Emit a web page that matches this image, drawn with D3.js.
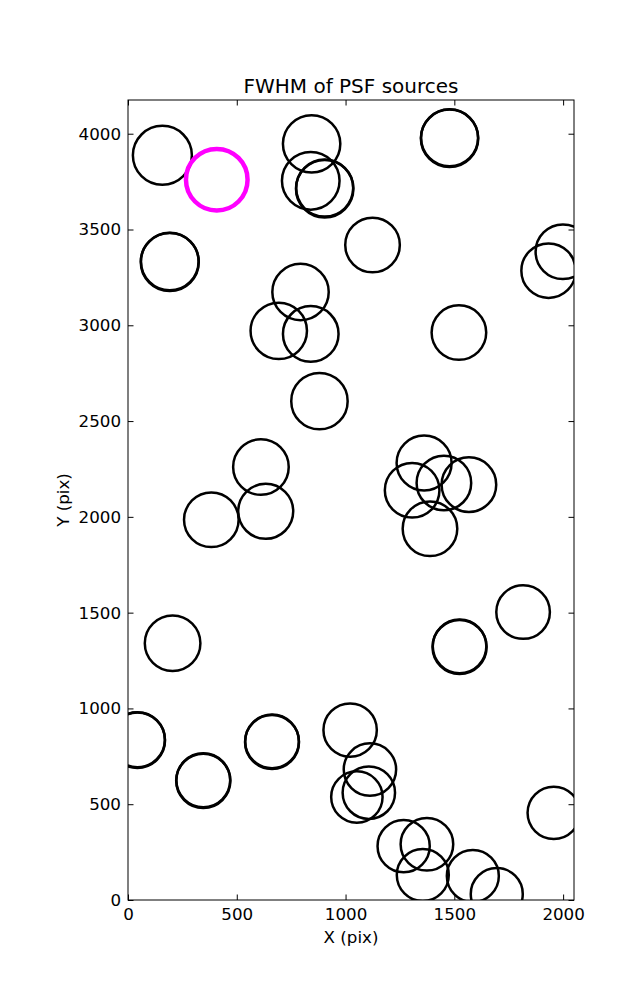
<!DOCTYPE html>
<html>
<head>
<meta charset="utf-8">
<script src="https://cdn.jsdelivr.net/npm/d3@7"></script>
<style>
  html, body { margin: 0; padding: 0; background: #fff; }
  text { font-family: "DejaVu Sans", sans-serif; fill: #000; }
</style>
</head>
<body>
<svg id="chart" width="637" height="1000"></svg>
<script>
// Source positions (image pixels) and FWHM (arbitrary units)
const srcX = [158, 844, 840, 904, 904, 192, 192, 1478, 1478, 1124, 1999, 1933, 793, 693, 840, 1521, 880,
  611, 1361, 1452, 1306, 1567, 1388, 383, 633, 1816, 205, 1524, 1524, 43, 43, 346, 346, 662, 662,
  1021, 1112, 1107, 1052, 1957, 1267, 1374, 1355, 1585, 1695];
const srcY = [3887, 3947, 3754, 3713, 3716, 3330, 3333, 3976, 3979, 3419, 3384, 3285, 3174, 2971, 2955, 2962, 2604,
  2260, 2281, 2177, 2139, 2168, 1938, 1985, 2029, 1503, 1340, 1321, 1324, 834, 837, 622, 625, 825, 828,
  887, 681, 560, 538, 455, 281, 291, 130, 125, 31];
const srcFwhm = [5.9, 5.74, 5.76, 5.74, 5.70, 5.8, 5.76, 5.74, 5.70, 5.46, 5.46, 5.44, 5.64, 5.64, 5.56, 5.46, 5.64,
  5.56, 5.5, 5.46, 5.46, 5.46, 5.46, 5.46, 5.5, 5.36, 5.56, 5.4, 5.36, 5.54, 5.50, 5.42, 5.38, 5.4, 5.36,
  5.34, 5.24, 5.24, 5.14, 5.24, 5.22, 5.26, 5.2, 5.2, 5.2];
// Highlighted source
const hiX = [408];
const hiY = [3760];
const hiFwhm = [6.16];

const xTicks = [0, 500, 1000, 1500, 2000];
const yTicks = [0, 500, 1000, 1500, 2000, 2500, 3000, 3500, 4000];
const xDomain = [0, 2050];
const yDomain = [0, 4176];
const titleText = "FWHM of PSF sources";
const xLabelText = "X (pix)";
const yLabelText = "Y (pix)";

(function () {
const svg = d3.select("#chart");
const mLeft = 128, mRight = 574, mTop = 100, mBottom = 900;
const x = d3.scaleLinear().domain(xDomain).range([mLeft, mRight]);
const y = d3.scaleLinear().domain(yDomain).range([mBottom, mTop]);
const r = d3.scaleLinear().domain([0, 10]).range([0, 50]);

const fs = 16.7;

svg.append("defs").append("clipPath").attr("id", "plotclip")
  .append("rect").attr("x", mLeft).attr("y", mTop).attr("width", mRight - mLeft).attr("height", mBottom - mTop);

const g = svg.append("g").attr("clip-path", "url(#plotclip)");
const data = srcX.map((d, i) => ({ x: d, y: srcY[i], f: srcFwhm[i] }));
g.selectAll("circle.src").data(data).enter().append("circle")
  .attr("class", "src")
  .attr("cx", d => x(d.x)).attr("cy", d => y(d.y)).attr("r", d => r(d.f))
  .attr("fill", "none").attr("stroke", "#000").attr("stroke-width", 2.5);

const hi = hiX.map((d, i) => ({ x: d, y: hiY[i], f: hiFwhm[i] }));
g.selectAll("circle.hi").data(hi).enter().append("circle")
  .attr("class", "hi")
  .attr("cx", d => x(d.x)).attr("cy", d => y(d.y)).attr("r", d => r(d.f))
  .attr("fill", "none").attr("stroke", "#ff00ff").attr("stroke-width", 4.5);

const tickLen = 5.5;
const xb = svg.append("g").attr("transform", `translate(0,${mBottom})`)
  .call(d3.axisBottom(x).tickValues(xTicks).tickSize(-tickLen).tickPadding(8).tickFormat(d3.format("d")));
const xt = svg.append("g").attr("transform", `translate(0,${mTop})`)
  .call(d3.axisTop(x).tickValues(xTicks).tickSize(-tickLen).tickFormat(""));
const yl = svg.append("g").attr("transform", `translate(${mLeft},0)`)
  .call(d3.axisLeft(y).tickValues(yTicks).tickSize(-tickLen).tickPadding(7).tickFormat(d3.format("d")));
const yr = svg.append("g").attr("transform", `translate(${mRight},0)`)
  .call(d3.axisRight(y).tickValues(yTicks).tickSize(-tickLen).tickFormat(""));
[xb, xt, yl, yr].forEach(a => {
  a.select(".domain").remove();
  a.selectAll(".tick line").attr("stroke", "#000").attr("stroke-width", 1);
  a.selectAll("text").attr("font-size", fs).attr("font-family", "DejaVu Sans, sans-serif").attr("fill", "#000");
});
xb.selectAll("text").attr("dy", "0.71em");

svg.append("rect").attr("x", mLeft).attr("y", mTop).attr("width", mRight - mLeft).attr("height", mBottom - mTop)
  .attr("fill", "none").attr("stroke", "#000").attr("stroke-width", 1);

svg.append("text").attr("x", (mLeft + mRight) / 2).attr("y", 93).attr("text-anchor", "middle")
  .attr("font-size", 20).text(titleText);
svg.append("text").attr("x", (mLeft + mRight) / 2).attr("y", 943).attr("text-anchor", "middle")
  .attr("font-size", fs).text(xLabelText);
svg.append("text").attr("transform", `translate(69,${(mTop + mBottom) / 2}) rotate(-90)`)
  .attr("text-anchor", "middle").attr("font-size", fs).text(yLabelText);
})();
</script>
</body>
</html>
